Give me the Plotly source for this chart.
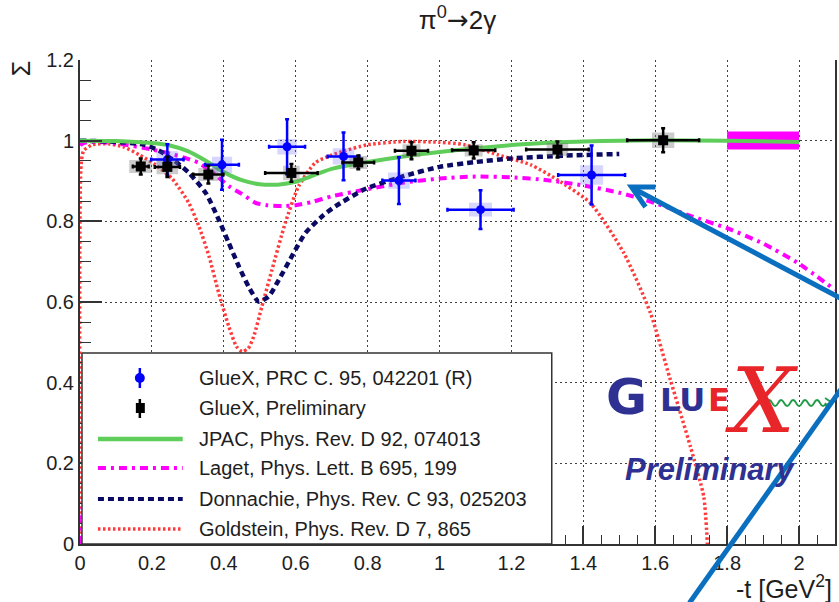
import plotly.graph_objects as go

# ---------------- data ----------------
# GlueX, PRC 95, 042201 (R)
prc_t = [0.243, 0.395, 0.576, 0.733, 0.887, 1.114, 1.423]
prc_sigma = [0.953, 0.940, 0.985, 0.961, 0.901, 0.829, 0.915]
prc_t_err = [0.045, 0.047, 0.050, 0.044, 0.046, 0.092, 0.093]
prc_stat = [0.038, 0.062, 0.068, 0.059, 0.058, 0.048, 0.073]
prc_sys_t = [0.030, 0.028, 0.027, 0.030, 0.030, 0.032, 0.032]
prc_sys = [0.021, 0.020, 0.019, 0.020, 0.020, 0.017, 0.024]

# GlueX, Preliminary
pre_t = [0.169, 0.243, 0.357, 0.588, 0.774, 0.922, 1.095, 1.328, 1.622]
pre_sigma = [0.936, 0.935, 0.916, 0.920, 0.946, 0.975, 0.976, 0.978, 1.001]
pre_t_err = [0.022, 0.035, 0.042, 0.073, 0.044, 0.046, 0.060, 0.087, 0.100]
pre_stat = [0.020, 0.025, 0.022, 0.022, 0.017, 0.021, 0.020, 0.020, 0.030]
pre_sys_t = [0.032, 0.030, 0.028, 0.023, 0.025, 0.025, 0.025, 0.030, 0.031]
pre_sys = [0.016, 0.018, 0.016, 0.018, 0.016, 0.016, 0.015, 0.016, 0.019]

# magenta band
band_t = [1.8, 2.0]
band_lo = 0.978
band_hi = 1.023

# JPAC
jpac_t = [0.0, 0.1, 0.2, 0.25, 0.3, 0.35, 0.4, 0.45, 0.5, 0.55, 0.6, 0.65, 0.7,
          0.8, 0.9, 1.0, 1.1, 1.2, 1.3, 1.4, 1.5, 1.6, 1.8, 2.0]
jpac_s = [1.0, 0.999, 0.994, 0.988, 0.974, 0.950, 0.922, 0.902, 0.892, 0.891,
          0.898, 0.914, 0.930, 0.947, 0.961, 0.972, 0.981, 0.989, 0.995, 0.998,
          1.000, 1.001, 1.000, 0.997]

# Laget
laget_t = [0.0, 0.003, 0.1, 0.2, 0.25, 0.3, 0.33, 0.37, 0.414, 0.45, 0.488, 0.52,
           0.562, 0.6, 0.645, 0.7, 0.8, 0.9, 1.0, 1.1, 1.2, 1.3, 1.4, 1.5, 1.6,
           1.7, 1.8, 1.9, 2.0, 2.1]
laget_s = [0.0, 0.99, 0.993, 0.978, 0.968, 0.955, 0.945, 0.92, 0.887, 0.868,
           0.846, 0.840, 0.838, 0.840, 0.848, 0.862, 0.880, 0.896, 0.906, 0.911,
           0.909, 0.902, 0.889, 0.871, 0.845, 0.813, 0.783, 0.745, 0.695, 0.63]

# Donnachie
donn_t = [0.0, 0.1, 0.179, 0.22, 0.26, 0.303, 0.35, 0.386, 0.414, 0.442, 0.469,
          0.497, 0.525, 0.553, 0.589, 0.627, 0.673, 0.71, 0.793, 0.9, 1.0, 1.1,
          1.2, 1.35, 1.5]
donn_s = [1.0, 0.997, 0.99, 0.975, 0.952, 0.92, 0.87, 0.804, 0.746, 0.688, 0.638,
          0.601, 0.614, 0.655, 0.713, 0.771, 0.812, 0.837, 0.880, 0.912, 0.935,
          0.947, 0.956, 0.963, 0.967]

# Goldstein
gold_t = [0.0, 0.003, 0.01, 0.035, 0.08, 0.12, 0.165, 0.21, 0.257, 0.303, 0.331,
          0.359, 0.386, 0.414, 0.435, 0.451, 0.468, 0.483, 0.506, 0.534, 0.571,
          0.608, 0.654, 0.691, 0.737, 0.8, 0.9, 1.0, 1.07, 1.162, 1.254, 1.328,
          1.42, 1.513, 1.587, 1.642, 1.698, 1.735, 1.745]
gold_s = [0.0, 0.94, 0.975, 0.99, 0.992, 0.985, 0.965, 0.94, 0.905, 0.845, 0.787,
          0.713, 0.622, 0.539, 0.490, 0.477, 0.485, 0.514, 0.589, 0.680, 0.796,
          0.887, 0.945, 0.961, 0.975, 0.990, 0.998, 0.996, 0.990, 0.965, 0.940,
          0.903, 0.845, 0.721, 0.572, 0.407, 0.241, 0.117, 0.0]

x_ticks = [0, 0.2, 0.4, 0.6, 0.8, 1.0, 1.2, 1.4, 1.6, 1.8, 2.0]
x_ticktext = ["0", "0.2", "0.4", "0.6", "0.8", "1", "1.2", "1.4", "1.6", "1.8", "2"]
y_ticks = [0, 0.2, 0.4, 0.6, 0.8, 1.0, 1.2]
y_ticktext = ["0", "0.2", "0.4", "0.6", "0.8", "1", "1.2"]

legend_labels = ["GlueX, PRC C. 95, 042201 (R)", "GlueX, Preliminary",
                 "JPAC, Phys. Rev. D 92, 074013", "Laget, Phys. Lett. B 695, 199",
                 "Donnachie, Phys. Rev. C 93, 025203", "Goldstein, Phys. Rev. D 7, 865"]

# ---------------- styles ----------------
W, H = 839, 602
L, R, T, B = 80, 837, 60, 544
FONT = "Liberation Sans, Arial, sans-serif"
TXT = "#1e1e1e"
C_GREEN = "#5fcd5a"
C_MAG = "#ff00ff"
C_NAVY = "#0a0a64"
C_RED = "#ff3b3b"
C_BLUE = "#0000ff"
C_ARROW = "#0a6fbf"
LOGO_BLUE = "#2e3192"
LOGO_RED = "#e8262a"

D_MAG = "8px,5px,3px,5px"
D_NAVY = "6px,4px"
D_RED = "2.5px,2.5px"


def px(xp):
    return (xp - L) / (R - L)


def py(yp):
    return (B - yp) / (B - T)


def boxes(xs, ys, hx, hy):
    bx, by = [], []
    for x, y, a, b in zip(xs, ys, hx, hy):
        bx += [x - a, x + a, x + a, x - a, x - a, None]
        by += [y - b, y - b, y + b, y + b, y - b, None]
    return bx, by


fig = go.Figure()

# magenta band
fig.add_trace(go.Scatter(
    x=[band_t[0], band_t[1], band_t[1], band_t[0], band_t[0]],
    y=[band_lo, band_lo, band_hi, band_hi, band_lo],
    fill="toself", fillcolor=C_MAG, mode="lines", line=dict(width=0),
    hoverinfo="skip", showlegend=False))

# curves
fig.add_trace(go.Scatter(x=gold_t, y=gold_s, mode="lines", name=legend_labels[5],
                         line=dict(color=C_RED, width=3.5, dash=D_RED, shape="spline", smoothing=0.6)))
fig.add_trace(go.Scatter(x=laget_t, y=laget_s, mode="lines", name=legend_labels[3],
                         line=dict(color=C_MAG, width=4, dash=D_MAG, shape="spline", smoothing=0.6)))
fig.add_trace(go.Scatter(x=donn_t, y=donn_s, mode="lines", name=legend_labels[4],
                         line=dict(color=C_NAVY, width=4.5, dash=D_NAVY, shape="spline", smoothing=0.6)))
fig.add_trace(go.Scatter(x=jpac_t, y=jpac_s, mode="lines", name=legend_labels[2],
                         line=dict(color=C_GREEN, width=4, shape="spline", smoothing=0.6)))

# systematic boxes
bx, by = boxes(prc_t, prc_sigma, prc_sys_t, prc_sys)
fig.add_trace(go.Scatter(x=bx, y=by, fill="toself", fillcolor="rgba(90,90,255,0.25)",
                         mode="lines", line=dict(width=0), hoverinfo="skip"))
bx, by = boxes(pre_t, pre_sigma, pre_sys_t, pre_sys)
fig.add_trace(go.Scatter(x=bx, y=by, fill="toself", fillcolor="rgba(110,110,110,0.35)",
                         mode="lines", line=dict(width=0), hoverinfo="skip"))

# data points
fig.add_trace(go.Scatter(
    x=prc_t, y=prc_sigma, mode="markers", name=legend_labels[0],
    marker=dict(symbol="circle", size=9, color=C_BLUE),
    error_x=dict(type="data", array=prc_t_err, color=C_BLUE, thickness=2.5, width=2),
    error_y=dict(type="data", array=prc_stat, color=C_BLUE, thickness=2.5, width=2)))
fig.add_trace(go.Scatter(
    x=pre_t, y=pre_sigma, mode="markers", name=legend_labels[1],
    marker=dict(symbol="square", size=10, color="black"),
    error_x=dict(type="data", array=pre_t_err, color="black", thickness=2.5, width=2),
    error_y=dict(type="data", array=pre_stat, color="black", thickness=2.5, width=2)))

shapes = []
annotations = []

# ----- manual legend box -----
shapes.append(dict(type="rect", xref="paper", yref="paper", layer="above",
                   x0=px(82), x1=px(553), y0=py(544), y1=py(353),
                   fillcolor="white", line=dict(color="#333333", width=1.5)))
rows = [378, 408, 439, 468, 499, 529]
# blue marker
shapes.append(dict(type="line", xref="paper", yref="paper", layer="above",
                   x0=px(140), x1=px(140), y0=py(368), y1=py(388),
                   line=dict(color=C_BLUE, width=2.5)))
shapes.append(dict(type="circle", xref="paper", yref="paper", layer="above",
                   x0=px(135), x1=px(145), y0=py(383), y1=py(373),
                   fillcolor=C_BLUE, line=dict(color=C_BLUE, width=0)))
# black marker
shapes.append(dict(type="line", xref="paper", yref="paper", layer="above",
                   x0=px(140), x1=px(140), y0=py(399), y1=py(418),
                   line=dict(color="black", width=2.5)))
shapes.append(dict(type="rect", xref="paper", yref="paper", layer="above",
                   x0=px(136), x1=px(145), y0=py(413), y1=py(403),
                   fillcolor="black", line=dict(color="black", width=0)))
for yy, col, wd, ds in [(rows[2], C_GREEN, 4.5, "solid"), (rows[3], C_MAG, 4, D_MAG),
                        (rows[4], C_NAVY, 4, D_NAVY), (rows[5], C_RED, 3.5, D_RED)]:
    shapes.append(dict(type="line", xref="paper", yref="paper", layer="above",
                       x0=px(98), x1=px(183), y0=py(yy), y1=py(yy),
                       line=dict(color=col, width=wd, dash=ds)))
for yy, lab in zip(rows, legend_labels):
    annotations.append(dict(xref="paper", yref="paper", x=px(197), y=py(yy),
                            text=lab, showarrow=False, xanchor="left", yanchor="middle",
                            font=dict(family=FONT, size=20, color=TXT)))

# ----- axis titles -----
annotations.append(dict(xref="paper", yref="paper", x=px(21), y=py(69), text="Σ",
                        textangle=-90, showarrow=False, xanchor="center", yanchor="middle",
                        font=dict(family=FONT, size=25, color=TXT)))
annotations.append(dict(xref="paper", yref="paper", x=px(836), y=py(587),
                        text="-t [GeV<sup>2</sup>]", showarrow=False,
                        xanchor="right", yanchor="middle",
                        font=dict(family=FONT, size=25, color=TXT)))

# ----- GlueX logo -----
annotations.append(dict(xref="paper", yref="paper", x=px(628), y=py(397), text="G",
                        showarrow=False, xanchor="center", yanchor="middle",
                        font=dict(family="DejaVu Sans", size=50, color=LOGO_BLUE, weight="bold")))
annotations.append(dict(xref="paper", yref="paper", x=px(684), y=py(400), text="LU",
                        showarrow=False, xanchor="center", yanchor="middle",
                        font=dict(family="DejaVu Sans", size=32, color=LOGO_BLUE, weight="bold")))
annotations.append(dict(xref="paper", yref="paper", x=px(721), y=py(400), text="E",
                        showarrow=False, xanchor="center", yanchor="middle",
                        font=dict(family="DejaVu Sans", size=32, color=LOGO_RED, weight="bold")))
annotations.append(dict(xref="paper", yref="paper", x=px(764), y=py(400), text="X",
                        showarrow=False, xanchor="center", yanchor="middle",
                        font=dict(family="DejaVu Serif", size=90, color=LOGO_RED,
                                  style="italic")))
annotations.append(dict(xref="paper", yref="paper", x=px(712), y=py(469), text="Preliminary",
                        showarrow=False, xanchor="center", yanchor="middle",
                        font=dict(family=FONT, size=31, color=LOGO_BLUE, weight="bold",
                                  style="italic")))
# green wave in logo
wave = "M %.4f,%.4f" % (px(768), py(403))
xw = 768.0
for k in range(10):
    amp = -6 if k % 2 == 0 else 6
    wave += " Q %.4f,%.4f %.4f,%.4f" % (px(xw + 3), py(403 + amp), px(xw + 6), py(403))
    xw += 6
shapes.append(dict(type="path", xref="paper", yref="paper", layer="above", path=wave,
                   line=dict(color="#1f9a45", width=1.8)))
shapes.append(dict(type="path", xref="paper", yref="paper", layer="above",
                   path="M %.4f,%.4f L %.4f,%.4f L %.4f,%.4f" % (
                       px(827), py(398), px(833), py(402), px(827), py(406)),
                   line=dict(color="#1f9a45", width=1.8)))

# ----- blue hand-drawn lines -----
shapes.append(dict(type="line", xref="paper", yref="paper", layer="above",
                   x0=px(634), y0=py(188), x1=px(846), y1=py(300),
                   line=dict(color=C_ARROW, width=5)))
shapes.append(dict(type="path", xref="paper", yref="paper", layer="above",
                   path="M %.4f,%.4f L %.4f,%.4f L %.4f,%.4f" % (
                       px(657), py(187), px(633), py(187), px(647), py(207)),
                   line=dict(color=C_ARROW, width=5)))
shapes.append(dict(type="line", xref="paper", yref="paper", layer="above",
                   x0=px(691), y0=py(603), x1=px(846), y1=py(385),
                   line=dict(color=C_ARROW, width=5)))

fig.update_layout(
    width=W, height=H,
    margin=dict(l=L, r=W - R, t=T, b=H - B),
    paper_bgcolor="white", plot_bgcolor="white",
    showlegend=False,
    title=dict(text="π<sup>0</sup><span style=\"font-family:'DejaVu Sans'\">→</span>2γ",
               x=0.5, xref="paper", xanchor="center",
               y=1 - 20 / H, yref="container", yanchor="middle",
               font=dict(family=FONT, size=26, color=TXT)),
    shapes=shapes, annotations=annotations,
    font=dict(family=FONT, color=TXT),
)
fig.update_xaxes(range=[0, 2.1], tickvals=x_ticks, ticktext=x_ticktext,
                 ticks="inside", ticklen=18, tickwidth=1.5, tickcolor="#333333",
                 showline=True, linecolor="#333333", linewidth=2, mirror=False,
                 showgrid=True, gridcolor="rgba(0,0,0,0.75)", gridwidth=1, griddash="2px,3px",
                 zeroline=False, tickfont=dict(family=FONT, size=20, color=TXT),
                 minor=dict(dtick=0.05, tick0=0, ticks="inside", ticklen=9,
                            tickcolor="#333333", tickwidth=1.2, showgrid=False))
fig.update_yaxes(range=[0, 1.2], tickvals=y_ticks, ticktext=y_ticktext,
                 ticks="inside", ticklen=22, tickwidth=1.5, tickcolor="#333333",
                 showline=True, linecolor="#333333", linewidth=2, mirror=True,
                 showgrid=True, gridcolor="rgba(0,0,0,0.75)", gridwidth=1, griddash="2px,3px",
                 zeroline=False, tickfont=dict(family=FONT, size=20, color=TXT),
                 minor=dict(dtick=0.05, tick0=0, ticks="inside", ticklen=11,
                            tickcolor="#333333", tickwidth=1.2, showgrid=False))

fig.write_html("out.html")
